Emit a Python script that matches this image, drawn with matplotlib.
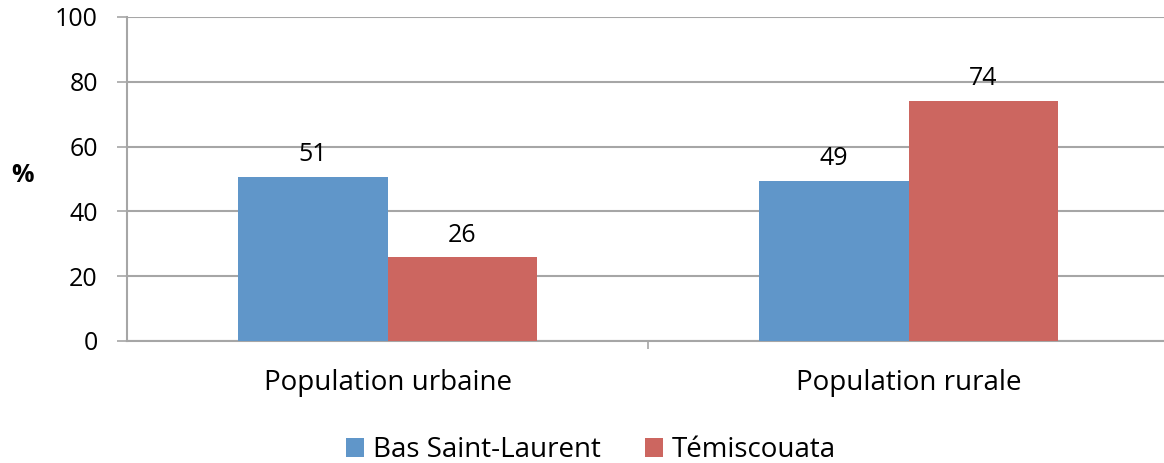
import numpy as np
import matplotlib.pyplot as plt

# data
categories = ['Population urbaine', 'Population rurale']
series_names = ['Bas Saint-Laurent', 'Témiscouata']
bas_st_laurent = [50.6, 49.4]
temiscouata = [25.8, 74.2]
yticks = [0, 20, 40, 60, 80, 100]

blue = '#6096C9'
red = '#CC6660'
grid_col = '#A6A6A6'

plt.rcParams['font.family'] = ['Open Sans', 'DejaVu Sans']

fig = plt.figure(figsize=(11.64, 4.63), dpi=100)
ax = fig.add_axes([127/1164, 1 - 341/463, (1169 - 127)/1164, (341 - 17)/463])

x = np.arange(len(categories))
w = 0.286
b1 = ax.bar(x - w/2, bas_st_laurent, w, color=blue, label=series_names[0], zorder=3)
b2 = ax.bar(x + w/2, temiscouata, w, color=red, label=series_names[1], zorder=3)
ax.bar_label(b1, fmt='%.0f', padding=7, fontsize=18)
ax.bar_label(b2, fmt='%.0f', padding=7, fontsize=18)

ax.set_xlim(-0.5, 1.5)
ax.set_ylim(0, 100)
ax.set_yticks(yticks)
ax.yaxis.grid(True, color=grid_col, lw=1.5, zorder=0)
ax.tick_params(axis='y', length=7, width=1.2, color=grid_col, pad=14, labelsize=18)

ax.set_xticks([0.5])
ax.set_xticklabels([''])
ax.tick_params(axis='x', which='major', length=6, width=1.2, color=grid_col)
ax.set_xticks(x, minor=True)
ax.set_xticklabels(categories, minor=True)
ax.tick_params(axis='x', which='minor', length=0, pad=20, labelsize=20)

for s in ['top', 'right']:
    ax.spines[s].set_visible(False)
for s in ['left', 'bottom']:
    ax.spines[s].set_color(grid_col)
    ax.spines[s].set_linewidth(1.5)

fig.text(22/1164, 1 - 176/463, '%', fontsize=18, fontweight='bold', ha='center', va='center')

fig.legend(handles=[b1, b2], loc='center', bbox_to_anchor=(591/1164, 1 - 450/463),
           ncol=2, frameon=False, fontsize=20, handlelength=0.65, handleheight=0.65,
           handletextpad=0.3, columnspacing=1.6)

fig.savefig('out.png', dpi=100)
